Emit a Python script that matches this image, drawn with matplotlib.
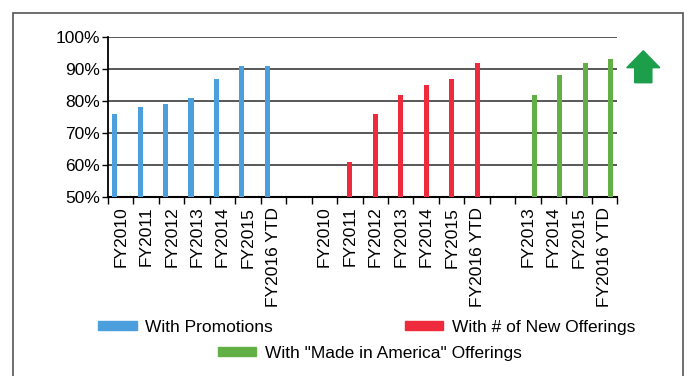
import numpy as np
import matplotlib.pyplot as plt
from matplotlib.patches import Rectangle, FancyArrow, Patch

plt.rcParams['font.family'] = ['Liberation Sans', 'DejaVu Sans']

# categories: promotions block, gap, new offerings block, gap, made in america block
categories = ['FY2010', 'FY2011', 'FY2012', 'FY2013', 'FY2014', 'FY2015', 'FY2016 YTD', '',
              'FY2010', 'FY2011', 'FY2012', 'FY2013', 'FY2014', 'FY2015', 'FY2016 YTD', '',
              'FY2013', 'FY2014', 'FY2015', 'FY2016 YTD']
nan = np.nan
promotions = [76, 78, 79, 81, 87, 91, 91, nan,
              nan, nan, nan, nan, nan, nan, nan, nan,
              nan, nan, nan, nan]
new_offerings = [nan, nan, nan, nan, nan, nan, nan, nan,
                 nan, 61, 76, 82, 85, 87, 92, nan,
                 nan, nan, nan, nan]
made_in_america = [nan, nan, nan, nan, nan, nan, nan, nan,
                   nan, nan, nan, nan, nan, nan, nan, nan,
                   82, 88, 92, 93]
series_names = ['With Promotions', 'With # of New Offerings', 'With "Made in America" Offerings']
colors = ['#4b9fdc', '#ee2a3c', '#62b045']

fig = plt.figure(figsize=(6.88, 3.76), dpi=100)
ax = fig.add_axes([0.157, 0.476, 0.74, 0.4256])

x = np.arange(len(categories))
bw = 0.2
for off, vals, c in zip([-0.24, 0, 0.24], [promotions, new_offerings, made_in_america], colors):
    v = np.array(vals, dtype=float)
    ax.bar(x + off, v - 50, bottom=50, width=bw, color=c, zorder=3)

ax.set_xlim(-0.5, len(categories) - 0.5)
ax.set_ylim(50, 100)
ax.set_yticks(range(50, 101, 10))
ax.set_yticklabels([f'{t}%' for t in range(50, 101, 10)], fontsize=12.5)
ax.yaxis.grid(True, color='#4a4a4a', linewidth=1.3, zorder=1)
ax.set_axisbelow(True)

ax.set_xticks(x)
ax.set_xticklabels(categories, rotation=90, fontsize=12.5)
ax.set_xticks(np.arange(-0.5, len(categories)), minor=True)
ax.tick_params(axis='x', which='major', length=0, pad=7)
ax.tick_params(axis='x', which='minor', length=5, width=1, color='black')
ax.tick_params(axis='y', length=4, width=1, pad=2)

for s in ['top', 'right']:
    ax.spines[s].set_visible(False)
ax.spines['left'].set_linewidth(1.3)
ax.spines['bottom'].set_linewidth(1.5)

# legend entries laid out in two rows
handles = [Patch(color=c) for c in colors]
spots = [(0.143, 0.13), (0.589, 0.13), (0.317, 0.061)]
for h, name, (lx, ly) in zip(handles, series_names, spots):
    leg = fig.legend([h], [name], loc='center left', bbox_to_anchor=(lx, ly),
                     frameon=False, fontsize=12.5, handlelength=2.2, handleheight=0.45,
                     handletextpad=0.5, borderpad=0, borderaxespad=0)

# green up arrow beside the chart
fig.add_artist(FancyArrow(0.935, 0.78, 0, 0.04, width=0.025, head_width=0.048,
                          head_length=0.045, length_includes_head=False,
                          color='#1d9e4b', transform=fig.transFigure))

# outer frame
fig.add_artist(Rectangle((0.019, -0.02), 0.974, 0.985, fill=False,
                         edgecolor='#555555', linewidth=1.2, transform=fig.transFigure))

fig.savefig('out.png', dpi=100)
